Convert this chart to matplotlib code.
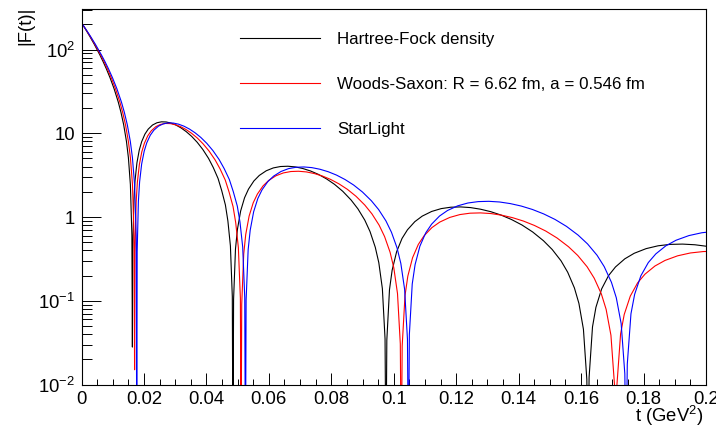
import matplotlib
matplotlib.use("Agg")
import matplotlib.pyplot as plt
from matplotlib.ticker import FixedLocator, NullFormatter

plt.rcParams['font.family'] = ['Liberation Sans', 'DejaVu Sans']
plt.rcParams['mathtext.fontset'] = 'custom'
plt.rcParams['mathtext.rm'] = 'Liberation Sans'
plt.rcParams['mathtext.it'] = 'Liberation Sans:italic'
plt.rcParams['mathtext.default'] = 'regular'

# |F(t)| for the Hartree-Fock density
t_hf = [0, 0.000163, 0.000652, 0.001467, 0.002608, 0.004075, 0.005868, 0.006887, 0.007987,
        0.009169, 0.010432, 0.011777, 0.012623, 0.013498, 0.014403, 0.015022, 0.015655,
        0.016137, 0.0163,
        0.016418, 0.016776, 0.017138, 0.017749, 0.018497, 0.019260, 0.020301, 0.021370,
        0.022744, 0.024161, 0.025621, 0.027124, 0.028670, 0.030259, 0.031890, 0.033565,
        0.035282, 0.037042, 0.038845, 0.040690, 0.042198, 0.043733, 0.044902, 0.046086,
        0.046884, 0.047689, 0.048298, 0.0485,
        0.048704, 0.049315, 0.049930, 0.050963, 0.052217, 0.053487, 0.055203, 0.056946,
        0.059163, 0.061423, 0.063724, 0.066068, 0.068455, 0.070883, 0.073355, 0.075868,
        0.078424, 0.081022, 0.083662, 0.086345, 0.088521, 0.090726, 0.092396, 0.094082,
        0.095215, 0.096354, 0.097213, 0.0975,
        0.097783, 0.098634, 0.099488, 0.100920, 0.102652, 0.104399, 0.106751, 0.109130,
        0.112140, 0.115190, 0.118282, 0.121415, 0.124588, 0.127803, 0.131058, 0.134354,
        0.137692, 0.141070, 0.144489, 0.147949, 0.150747, 0.153571, 0.155706, 0.157856,
        0.159297, 0.160745, 0.161835, 0.1622,
        0.162562, 0.163652, 0.164746, 0.166577, 0.168787, 0.171012, 0.174001, 0.177016,
        0.180821, 0.184667, 0.188553, 0.192479, 0.196446, 0.200454]
f_hf = [208, 203.5, 190.5, 170.2, 144.5, 115.7, 86.3, 72.1, 58.5,
        45.7, 34.05, 23.57, 17.87, 12.68, 7.97, 5.10, 2.436,
        0.603, 0.028,
        0.397, 1.571, 2.699, 4.428, 6.291, 7.919, 9.754, 11.207,
        12.536, 13.344, 13.692, 13.632, 13.223, 12.522, 11.572, 10.439,
        9.174, 7.809, 6.406, 5.007, 3.899, 2.885, 2.066, 1.392,
        0.896, 0.451, 0.112, 0.001,
        0.1038, 0.4153, 0.7098, 1.178, 1.697, 2.155, 2.693, 3.137,
        3.564, 3.855, 4.006, 4.038, 3.964, 3.792, 3.543, 3.228,
        2.858, 2.456, 2.028, 1.594, 1.252, 0.917, 0.671, 0.4355,
        0.2848, 0.1398, 0.0351, 0.001,
        0.0339, 0.1357, 0.2319, 0.3849, 0.5544, 0.7040, 0.8800, 1.0251,
        1.1646, 1.2595, 1.3090, 1.3193, 1.2953, 1.2388, 1.1578, 1.0547,
        0.9339, 0.8023, 0.6625, 0.5209, 0.4092, 0.2998, 0.2191, 0.1423,
        0.0931, 0.0457, 0.0115, 0.001,
        0.0122, 0.0488, 0.0835, 0.1385, 0.1995, 0.2533, 0.3167, 0.3689,
        0.4191, 0.4532, 0.4711, 0.4748, 0.4661, 0.4458]

# |F(t)| for the Woods-Saxon density
t_ws = [0, 0.00017, 0.00068, 0.00153, 0.00272, 0.00425, 0.00612, 0.0071825, 0.00833,
        0.0095625, 0.01088, 0.0122825, 0.0131648, 0.0140777, 0.0150212, 0.0156672, 0.0163268,
        0.0168304, 0.0170,
        0.017125, 0.017503, 0.017884, 0.018530, 0.019319, 0.020125, 0.021226, 0.022356,
        0.023809, 0.025308, 0.026853, 0.028443, 0.030080, 0.031762, 0.033490, 0.035263,
        0.037083, 0.038948, 0.040859, 0.042815, 0.044414, 0.046041, 0.047281, 0.048538,
        0.049384, 0.050238, 0.050884, 0.0511,
        0.051312, 0.051952, 0.052596, 0.053679, 0.054993, 0.056323, 0.058121, 0.059947,
        0.062269, 0.064636, 0.067047, 0.069501, 0.072000, 0.074543, 0.077130, 0.079762,
        0.082437, 0.085157, 0.087920, 0.090728, 0.093006, 0.095312, 0.097061, 0.098825,
        0.100010, 0.101202, 0.102100, 0.1024,
        0.102700, 0.103602, 0.104508, 0.106027, 0.107865, 0.109718, 0.112213, 0.114737,
        0.117931, 0.121168, 0.124450, 0.127775, 0.131144, 0.134557, 0.138014, 0.141515,
        0.145059, 0.148648, 0.152280, 0.155956, 0.158928, 0.161929, 0.164198, 0.166482,
        0.168014, 0.169553, 0.170712, 0.1711,
        0.171484, 0.172644, 0.173807, 0.175756, 0.178108, 0.180475, 0.183657, 0.186866,
        0.190917, 0.195011, 0.199148, 0.203329]
f_ws = [208, 203.5, 190.5, 170.2, 144.5, 115.7, 86.3, 72.1, 58.5,
        45.7, 34.05, 23.57, 17.87, 12.68, 7.97, 5.10, 2.436,
        0.603, 0.015,
        0.380, 1.503, 2.581, 4.234, 6.016, 7.572, 9.327, 10.716,
        11.987, 12.759, 13.092, 13.035, 12.644, 11.973, 11.066, 9.982,
        8.772, 7.467, 6.126, 4.788, 3.728, 2.759, 1.975, 1.331,
        0.857, 0.431, 0.107, 0.001,
        0.0905, 0.3619, 0.6185, 1.026, 1.478, 1.877, 2.347, 2.734,
        3.106, 3.359, 3.491, 3.518, 3.454, 3.304, 3.087, 2.812,
        2.490, 2.139, 1.767, 1.389, 1.091, 0.7994, 0.5843, 0.3795,
        0.2482, 0.1218, 0.0306, 0.001,
        0.0288, 0.1151, 0.1968, 0.3266, 0.4704, 0.5973, 0.7467, 0.8698,
        0.9882, 1.0687, 1.1107, 1.1194, 1.0991, 1.0511, 0.9824, 0.8949,
        0.7924, 0.6807, 0.5621, 0.4420, 0.3472, 0.2544, 0.1859, 0.1207,
        0.0790, 0.0388, 0.0097, 0.001,
        0.0100, 0.0401, 0.0685, 0.1137, 0.1638, 0.2080, 0.2600, 0.3029,
        0.3441, 0.3721, 0.3868, 0.3898]

# |F(t)| used in StarLight
t_sl = [0, 0.000177, 0.000708, 0.001593, 0.002832, 0.004425, 0.006372, 0.0074783, 0.008673,
        0.0099563, 0.011328, 0.0127883, 0.0137069, 0.0146574, 0.0156397, 0.0163123, 0.0169991,
        0.0175234, 0.0177,
        0.017828, 0.018215, 0.018606, 0.019267, 0.020076, 0.020901, 0.022027, 0.023183,
        0.024669, 0.026201, 0.027780, 0.029405, 0.031075, 0.032792, 0.034556, 0.036365,
        0.038220, 0.040122, 0.042070, 0.044064, 0.045692, 0.047350, 0.048613, 0.049893,
        0.050755, 0.051624, 0.052281, 0.0525,
        0.052718, 0.053370, 0.054027, 0.055130, 0.056468, 0.057823, 0.059654, 0.061513,
        0.063878, 0.066287, 0.068741, 0.071239, 0.073782, 0.076370, 0.079002, 0.081679,
        0.084400, 0.087166, 0.089976, 0.092832, 0.095148, 0.097492, 0.099270, 0.101063,
        0.102268, 0.103479, 0.104393, 0.1047,
        0.105002, 0.105918, 0.106838, 0.108380, 0.110246, 0.112127, 0.114661, 0.117222,
        0.120464, 0.123750, 0.127080, 0.130455, 0.133873, 0.137336, 0.140844, 0.144395,
        0.147991, 0.151630, 0.155314, 0.159043, 0.162057, 0.165100, 0.167400, 0.169717,
        0.171270, 0.172830, 0.174005, 0.1744,
        0.174790, 0.175968, 0.177151, 0.179130, 0.181520, 0.183926, 0.187158, 0.190419,
        0.194534, 0.198693, 0.202896]
f_sl = [208, 203.5, 190.5, 170.2, 144.5, 115.7, 86.3, 72.1, 58.5,
        45.7, 34.05, 23.57, 17.87, 12.68, 7.97, 5.10, 2.436,
        0.603, 0.001,
        0.386, 1.526, 2.620, 4.299, 6.107, 7.687, 9.470, 10.879,
        12.170, 12.954, 13.292, 13.234, 12.837, 12.156, 11.235, 10.135,
        8.906, 7.581, 6.219, 4.861, 3.785, 2.801, 2.006, 1.351,
        0.870, 0.438, 0.109, 0.001,
        0.1018, 0.4071, 0.6958, 1.155, 1.663, 2.112, 2.640, 3.075,
        3.494, 3.779, 3.927, 3.958, 3.886, 3.716, 3.473, 3.164,
        2.802, 2.407, 1.988, 1.563, 1.228, 0.899, 0.657, 0.427,
        0.279, 0.137, 0.0345, 0.001,
        0.0396, 0.1583, 0.2706, 0.4491, 0.6468, 0.8213, 1.0267, 1.1960,
        1.3587, 1.4695, 1.5272, 1.5392, 1.5112, 1.4453, 1.3507, 1.2305,
        1.0896, 0.9360, 0.7729, 0.6077, 0.4774, 0.3497, 0.2556, 0.1660,
        0.1086, 0.0533, 0.0134, 0.001,
        0.0175, 0.0699, 0.1195, 0.1983, 0.2856, 0.3626, 0.4534, 0.5281,
        0.6000, 0.6489, 0.6744]

x_ticks = [0, 0.02, 0.04, 0.06, 0.08, 0.1, 0.12, 0.14, 0.16, 0.18, 0.2]
x_labels = ['0', '0.02', '0.04', '0.06', '0.08', '0.1', '0.12', '0.14', '0.16', '0.18', '0.2']
y_ticks = [1e-2, 1e-1, 1, 10, 1e2]
y_labels = ['10$^{-2}$', '10$^{-1}$', '1', '10', '10$^{2}$']

W, H = 716, 428
fig = plt.figure(figsize=(W / 100, H / 100), dpi=100)
x0, x1, ytop, ybot = 81.5, 706.0, 9.3, 384.5
ax = fig.add_axes([x0 / W, 1 - ybot / H, (x1 - x0) / W, (ybot - ytop) / H])

ax.plot(t_hf, f_hf, color='black', lw=0.8, label='Hartree-Fock density')
ax.plot(t_ws, f_ws, color='#ff0000', lw=0.8, label='Woods-Saxon: R = 6.62 fm, a = 0.546 fm')
ax.plot(t_sl, f_sl, color='#0000ff', lw=0.8, label='StarLight')

ax.set_yscale('log')
ax.set_xlim(0, 0.2)
ax.set_ylim(0.01, 302)

ax.xaxis.set_major_locator(FixedLocator(x_ticks))
ax.set_xticklabels(x_labels)
ax.xaxis.set_minor_locator(FixedLocator([i * 0.005 for i in range(41) if i % 4]))
ax.yaxis.set_major_locator(FixedLocator(y_ticks))
ax.set_yticklabels(y_labels)
ax.yaxis.set_minor_locator(FixedLocator([m * 10.0 ** e for e in range(-2, 3) for m in range(2, 10)]))
ax.yaxis.set_minor_formatter(NullFormatter())

ax.tick_params(axis='x', which='major', direction='in', length=8.6, width=0.7, pad=4.5,
               labelsize=13.3)
ax.tick_params(axis='x', which='minor', direction='in', length=4.3, width=0.7)
ax.tick_params(axis='y', which='major', direction='in', length=13.7, width=0.7, pad=4.5,
               labelsize=13.3)
ax.tick_params(axis='y', which='minor', direction='in', length=7.2, width=0.7)
for s in ax.spines.values():
    s.set_linewidth(0.8)

fig.text(703 / W, 1 - 422 / H, 't (GeV$^{2}$)', ha='right', va='baseline', fontsize=13.3)
fig.text(17 / W, 1 - 7 / H, '|F(t)|', ha='left', va='top', rotation=90, fontsize=13.3)

ax.legend(loc='upper left', bbox_to_anchor=((240 - x0) / (x1 - x0), (ybot - 32) / (ybot - ytop)),
          frameon=False, fontsize=12.2, handlelength=4.7, handletextpad=1.05,
          labelspacing=1.76, borderpad=0, borderaxespad=0)

fig.savefig('out.png', dpi=100)
